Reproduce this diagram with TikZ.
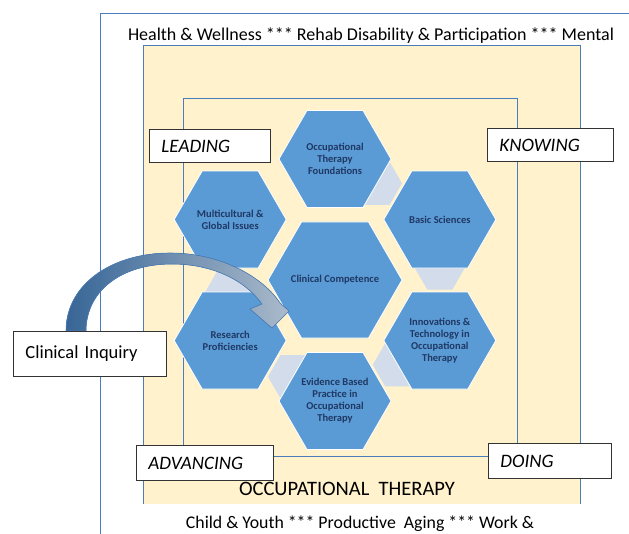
\documentclass[tikz,border=0pt]{standalone}
\usepackage{fontspec}
\setmainfont{Carlito}
\usetikzlibrary{shapes.geometric,calc}
\definecolor{hexblue}{HTML}{5B9BD5}
\definecolor{hexlink}{HTML}{D3DCEB}
\definecolor{creamfill}{HTML}{FFF2CC}
\definecolor{framebl}{HTML}{4A7EBB}
\definecolor{hextext}{HTML}{1F3864}
\definecolor{arrowbl}{HTML}{3C6FA5}
\begin{document}
\begin{tikzpicture}[x=1pt,y=-1pt,
    frameline/.style={draw=framebl,line width=.9pt},
    hexa/.style={regular polygon,regular polygon sides=6,minimum size=112pt,inner sep=0pt,
      fill=hexblue,draw=white,line width=.8pt,text=hextext,align=center,
      font=\bfseries\fontsize{10.5}{12}\selectfont},
    hexlinker/.style={regular polygon,regular polygon sides=6,minimum size=50pt,inner sep=0pt,fill=hexlink},
    tagbox/.style={draw=black!80,fill=white,line width=.9pt,anchor=north west,inner xsep=12pt,
      inner ysep=0pt,align=left,minimum height=33pt,font=\itshape\fontsize{19}{21}\selectfont}]
    \useasboundingbox (0,0) rectangle (629,533);
    % frames
    \draw[frameline] (100,545) -- (100,13.5) -- (640,13.5);
    \fill[creamfill] (143,45) rectangle (580,504);
    \draw[frameline] (143,504) -- (143,45) -- (580,45) -- (580,504);
    \draw[frameline] (183,98) rectangle (517,456);
    \node (topline) at (371,36) {\fontsize{18}{20}\selectfont Health \& Wellness *** Rehab Disability \& Participation *** Mental};
    \node (ottitle) at (347,489) {\fontsize{20.5}{22}\selectfont OCCUPATIONAL\ \ THERAPY};
    \node (botline) at (360,524) {\fontsize{17.8}{20}\selectfont Child \& Youth *** Productive\ \ Aging *** Work \&};
    % hexagon positions
    \coordinate (cc) at (335,280);
    \coordinate (pfnd) at (335,159);
    \coordinate (pbsc) at (439.8,219.5);
    \coordinate (pinn) at (439.8,340.5);
    \coordinate (pebp) at (335,401);
    \coordinate (pres) at (230.2,340.5);
    \coordinate (pmul) at (230.2,219.5);
    % links behind the hexagons
    \node[hexlinker] (l1) at ($(pfnd)!48.5pt!(pbsc)$) {};
    \node[hexlinker] (l2) at ($(pbsc)!48.5pt!(pinn)$) {};
    \node[hexlinker] (l3) at ($(pinn)!48.5pt!(pebp)$) {};
    \node[hexlinker] (l4) at ($(pebp)!48.5pt!(pres)$) {};
    \node[hexlinker] (l5) at ($(pres)!48.5pt!(pmul)$) {};
    % hexagons
    \node[hexa,minimum size=134pt] (clin) at (cc) {\makebox[40pt]{Clinical Competence}};
    \node[hexa] (fnd) at (pfnd) {Occupational\\Therapy\\Foundations};
    \node[hexa] (bsc) at (pbsc) {Basic Sciences};
    \node[hexa] (inn) at (pinn) {Innovations \&\\Technology in\\Occupational\\Therapy};
    \node[hexa] (ebp) at (pebp) {Evidence Based\\Practice in\\Occupational\\Therapy};
    \node[hexa] (res) at (pres) {Research\\Proficiencies};
    \node[hexa] (mul) at (pmul) {Multicultural \&\\Global Issues};
    % curved arrow
    \filldraw[draw=framebl,line width=.6pt,left color=arrowbl,right color=arrowbl!35,fill opacity=.9]
      (66,331) .. controls (66,284) and (112,253) .. (170,253)
      .. controls (220,253) and (262,276) .. (280,303)
      -- (289,311) -- (272,328) -- (250,309) -- (262,304)
      .. controls (245,280) and (212,264) .. (172,264)
      .. controls (120,264) and (86,292) .. (86,331) -- cycle;
    % tags
    \node[tagbox,text width=97pt] (lead) at (149,129) {LEADING};
    \node[tagbox,text width=102pt] (know) at (487,128) {KNOWING};
    \node[tagbox,text width=113pt,minimum height=35pt] (adv) at (136,445) {ADVANCING};
    \node[tagbox,text width=99pt,minimum height=35pt] (doing) at (488,443) {DOING};
    \node[tagbox,text width=129pt,minimum height=45pt,font=\fontsize{18.5}{20}\selectfont] (inq) at (13,331) {Clinical Inquiry};
\end{tikzpicture}
\end{document}
